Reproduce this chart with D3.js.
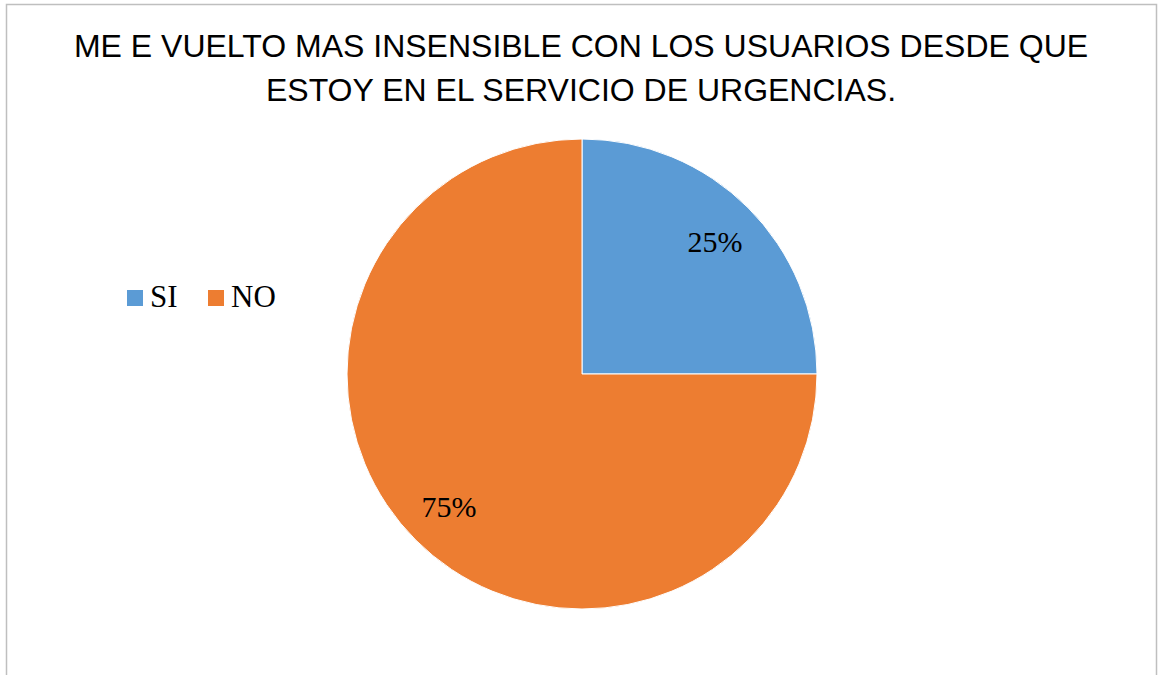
<!DOCTYPE html>
<html>
<head>
<meta charset="utf-8">
<script src="https://cdn.jsdelivr.net/npm/d3@7"></script>
<style>
  body { margin: 0; background: #fff; }
  svg { display: block; }
</style>
</head>
<body>
<div id="chart"></div>
<script>
// Chart data
const titleLines = ["ME E VUELTO MAS INSENSIBLE CON LOS USUARIOS DESDE QUE", "ESTOY EN EL SERVICIO DE URGENCIAS."];
const categories = ["SI", "NO"];
const values = [25, 75];
const colors = ["#5B9BD5", "#ED7D31"];

const width = 1158, height = 675;
const cx = 582, cy = 374, radius = 235;

let svg = d3.select("#chart").append("svg")
    .attr("width", width)
    .attr("height", height);

// Chart border
svg.append("rect")
    .attr("x", 6.5).attr("y", 4.5)
    .attr("width", 1150).attr("height", 700)
    .attr("fill", "none")
    .attr("stroke", "#bfbfbf")
    .attr("stroke-width", 1.5);

// Title
svg.append("text")
    .attr("x", 581).attr("y", 57)
    .attr("text-anchor", "middle")
    .style("font-family", "'Liberation Sans', Arial, sans-serif")
    .style("font-size", "32px")
    .attr("fill", "#000")
    .selectAll("tspan")
    .data(titleLines)
    .enter()
    .append("tspan")
    .attr("x", 581)
    .attr("dy", (d, i) => i == 0 ? 0 : 44)
    .text(d => d);

// Pie
let pie = d3.pie().sort(null).value(d => d);
let arc = d3.arc().innerRadius(0).outerRadius(radius);
let labelArc = d3.arc().innerRadius(radius * 0.8).outerRadius(radius * 0.8);

let g = svg.append("g").attr("transform", `translate(${cx},${cy})`);
let arcs = pie(values);

g.selectAll("path")
    .data(arcs)
    .enter()
    .append("path")
    .attr("d", arc)
    .attr("fill", (d, i) => colors[i])
    .attr("stroke", "#fff")
    .attr("stroke-width", 1);

g.selectAll("text")
    .data(arcs)
    .enter()
    .append("text")
    .attr("transform", d => `translate(${labelArc.centroid(d)})`)
    .attr("text-anchor", "middle")
    .attr("dy", "0.35em")
    .style("font-family", "'Liberation Serif', 'Times New Roman', serif")
    .style("font-size", "30px")
    .attr("fill", "#000")
    .text(d => d.data + "%");

// Legend
let legendX = [127, 208];
let legend = svg.selectAll(".legend")
    .data(categories)
    .enter()
    .append("g")
    .attr("class", "legend")
    .attr("transform", (d, i) => `translate(${legendX[i]},290)`);

legend.append("rect")
    .attr("width", 16).attr("height", 16)
    .attr("fill", (d, i) => colors[i]);

legend.append("text")
    .attr("x", 23).attr("y", 17)
    .style("font-family", "'Liberation Serif', 'Times New Roman', serif")
    .style("font-size", "31px")
    .attr("fill", "#000")
    .text(d => d);
</script>
</body>
</html>
